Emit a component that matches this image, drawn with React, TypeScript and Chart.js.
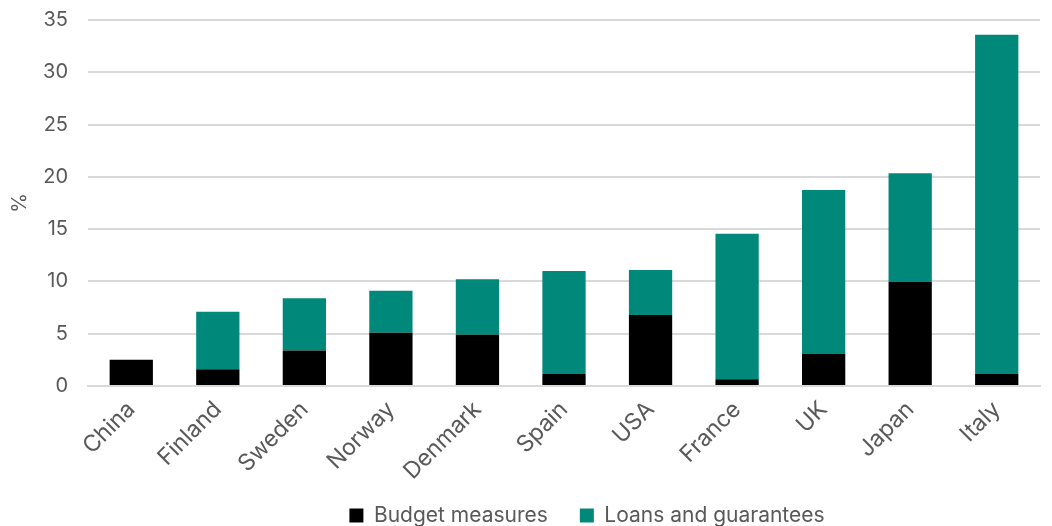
import React, { useEffect, useRef } from "react";
import { Chart, registerables } from "chart.js";

Chart.register(...registerables);

const categories = ["China", "Finland", "Sweden", "Norway", "Denmark", "Spain", "USA", "France", "UK", "Japan", "Italy"];
const budgetMeasures = [2.5, 1.6, 3.4, 5.1, 4.9, 1.15, 6.8, 0.65, 3.05, 9.95, 1.15];
const loansAndGuarantees = [0, 5.5, 5.0, 4.0, 5.3, 9.85, 4.3, 13.9, 15.7, 10.4, 32.45];
const yTicks = [0, 5, 10, 15, 20, 25, 30, 35];

const TEXT = "#595959";
const FONT = "Inter, 'Open Sans', sans-serif";

const legendShift = {
  id: "legendShift",
  afterLayout(chart: any) {
    const l = chart.legend;
    if (l) {
      l.left += 64;
      l.right += 64;
    }
  },
};

export default function App() {
  const ref = useRef<HTMLCanvasElement | null>(null);
  useEffect(() => {
    if (!ref.current) return;
    const chart = new Chart(ref.current, {
      type: "bar",
      data: {
        labels: categories,
        datasets: [
          { label: "Budget measures", data: budgetMeasures, backgroundColor: "#000000", borderWidth: 0 },
          { label: "Loans and guarantees", data: loansAndGuarantees, backgroundColor: "#00897B", borderWidth: 0 },
        ],
      },
      plugins: [legendShift],
      options: {
        animation: false,
        responsive: false,
        maintainAspectRatio: false,
        layout: { padding: { left: 6, right: 12, top: 20, bottom: -10 } },
        datasets: { bar: { categoryPercentage: 1.0, barPercentage: 0.5 } },
        plugins: {
          legend: {
            position: "bottom",
            labels: {
              color: TEXT,
              font: { family: FONT, size: 21 },
              boxWidth: 14,
              boxHeight: 14,
              padding: 32,
            },
          },
          tooltip: { enabled: false },
        },
        scales: {
          x: {
            stacked: true,
            grid: { display: false },
            border: { color: "#d9d9d9", width: 2 },
            ticks: {
              color: TEXT,
              font: { family: FONT, size: 23 },
              minRotation: 45,
              maxRotation: 45,
              padding: 2,
            },
            afterFit: (axis: any) => {
              axis.height = 87;
              axis._computeLabelArea = () => undefined;
            },
          },
          y: {
            stacked: true,
            min: 0,
            max: 35,
            afterBuildTicks: (axis: any) => {
              axis.ticks = yTicks.map((v) => ({ value: v }));
            },
            afterFit: (axis: any) => {
              axis.width = 82;
              axis.paddingTop = 0;
              axis.paddingBottom = 0;
            },
            grid: { color: "#d9d9d9", lineWidth: 2, drawTicks: false },
            border: { display: false },
            ticks: {
              color: TEXT,
              font: { family: FONT, size: 20 },
              padding: 20,
            },
            title: {
              display: true,
              text: "%",
              color: TEXT,
              font: { family: FONT, size: 20 },
              padding: { top: 2, bottom: 0 },
            },
          },
        },
      },
    });
    return () => chart.destroy();
  }, []);
  return (
    <div style={{ position: "fixed", left: 0, top: 0, width: 1052, height: 526, background: "#fff" }}>
      <canvas ref={ref} width={1052} height={526} style={{ width: 1052, height: 526 }} />
    </div>
  );
}
